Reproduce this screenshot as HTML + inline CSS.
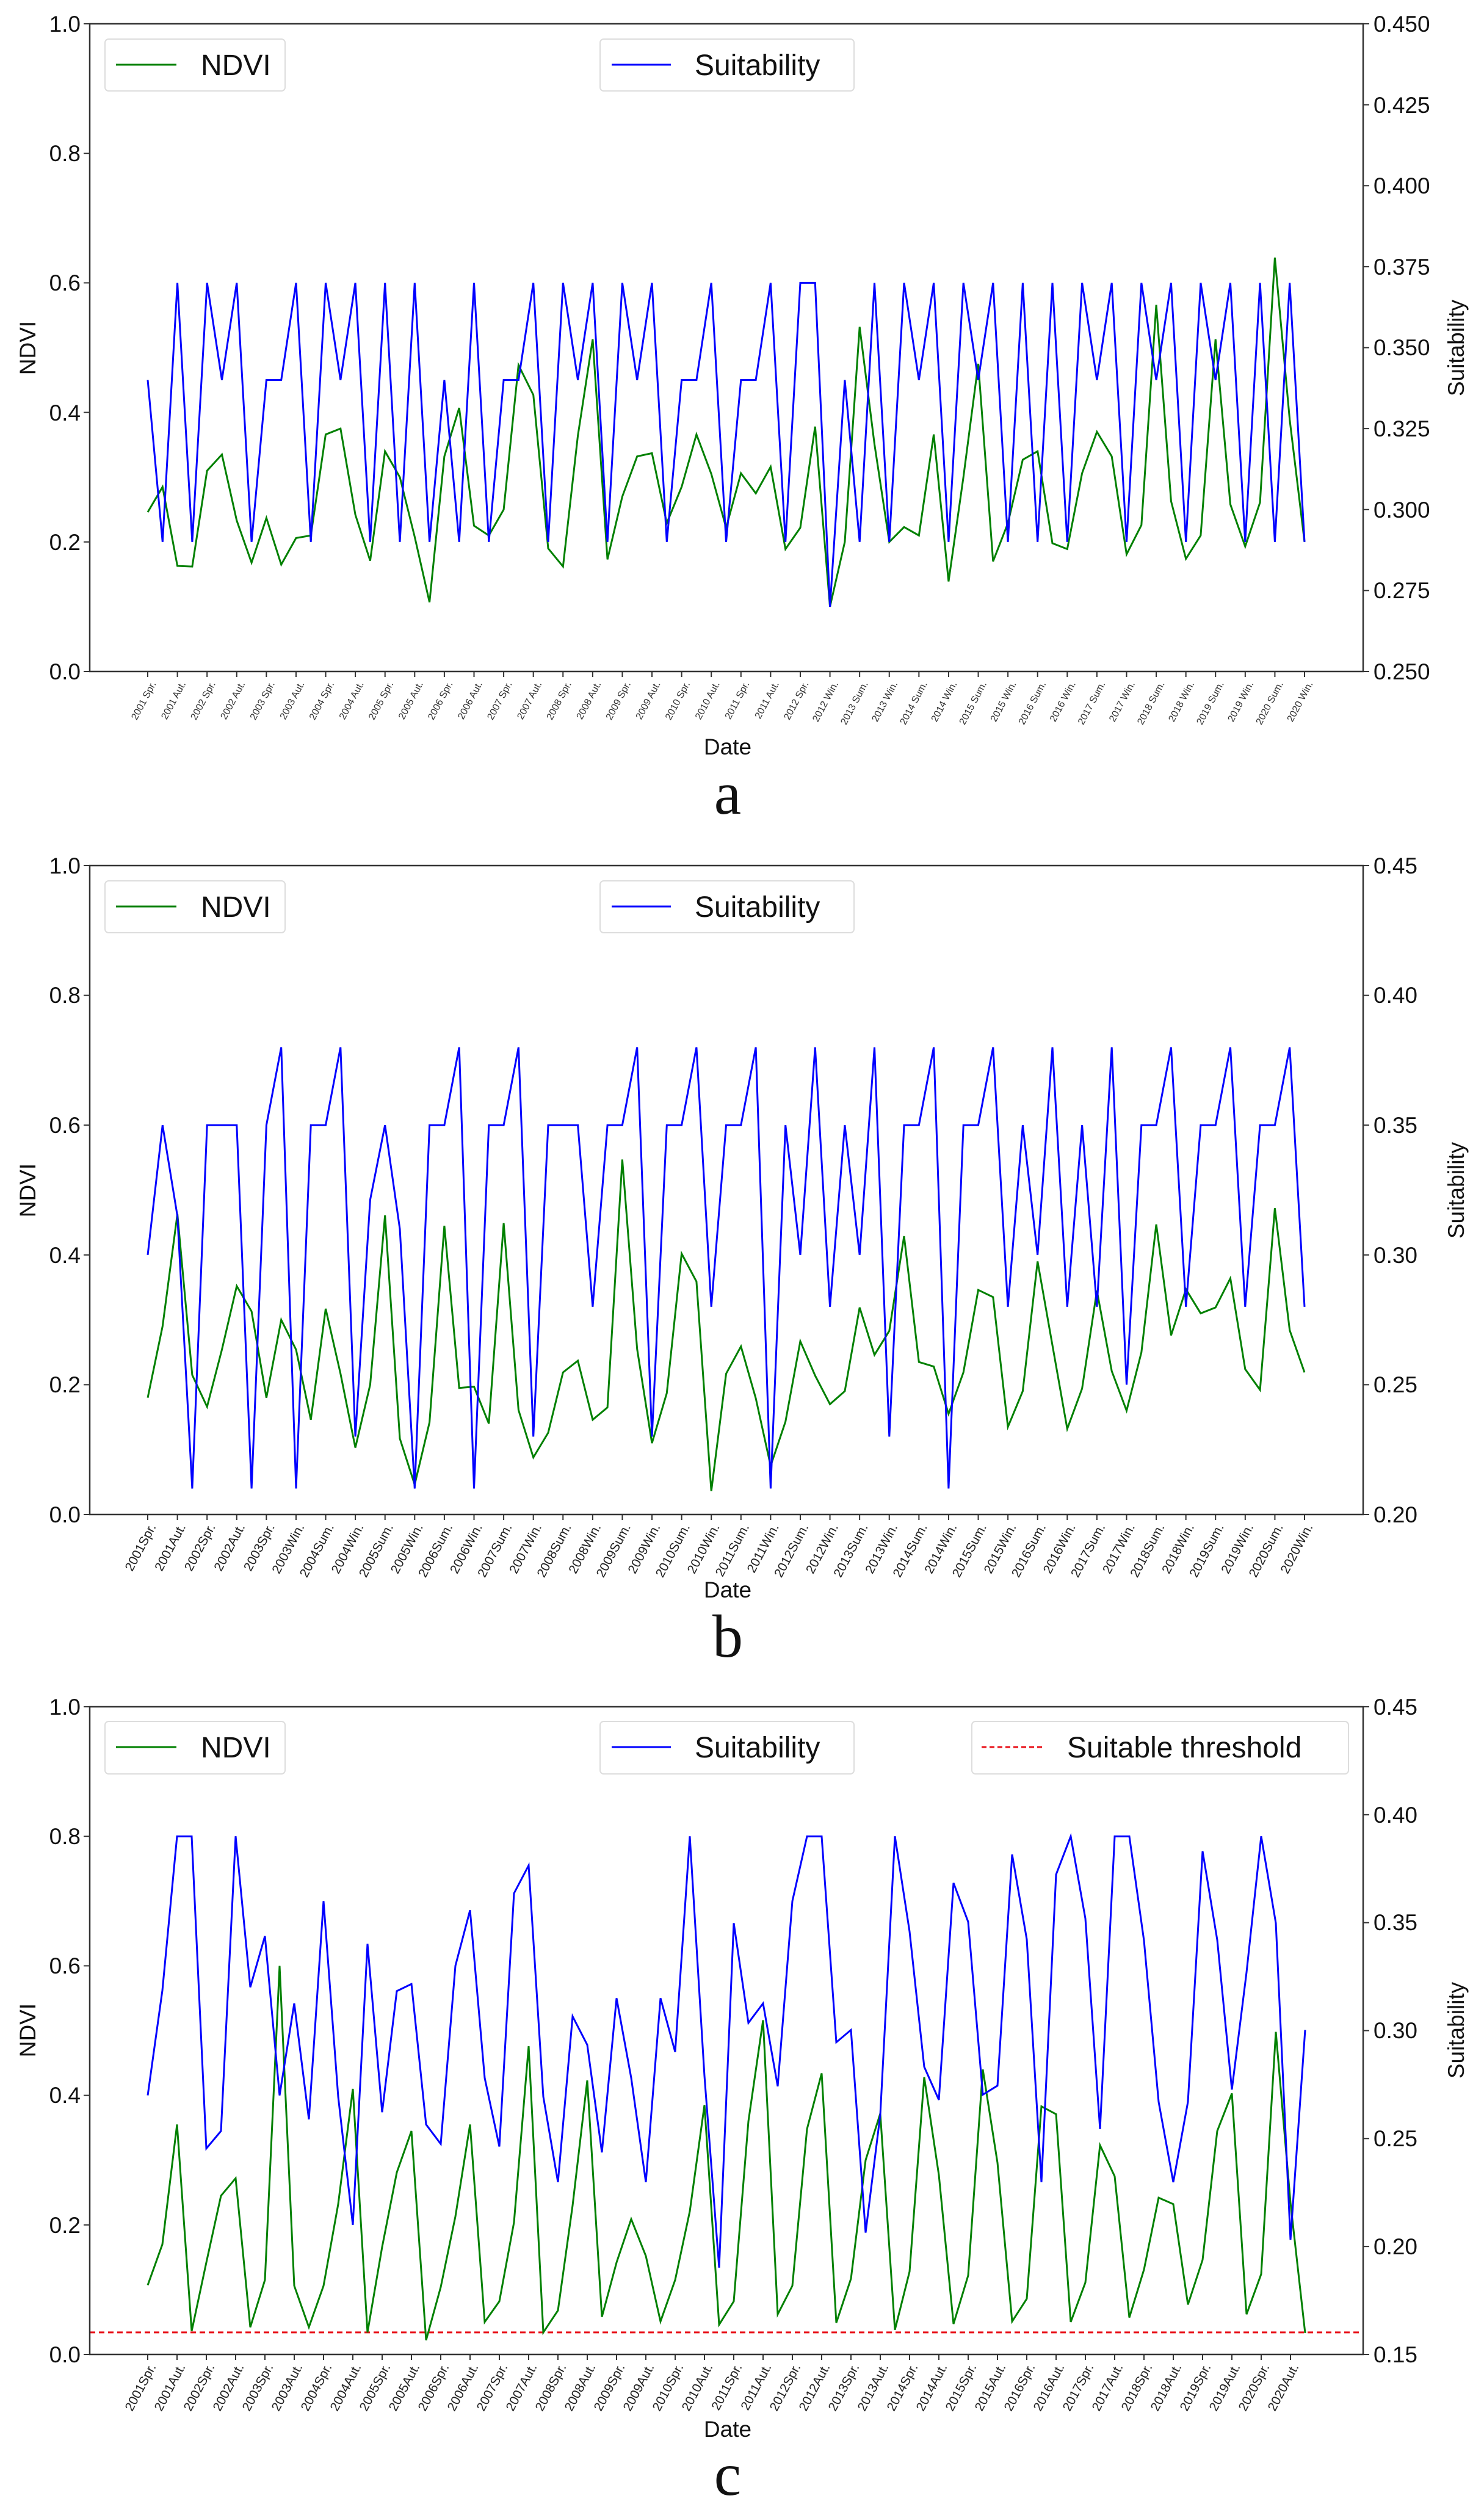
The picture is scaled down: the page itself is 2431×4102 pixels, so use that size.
<!DOCTYPE html>
<html><head><meta charset="utf-8">
<style>
html,body{margin:0;padding:0;background:#fff;}
svg{display:block;}
text{font-family:"Liberation Sans",sans-serif;fill:#111;}
.tk{font-size:37px;}
.ax{font-size:37px;}
.lg{font-size:48px;}
.ta{font-size:16px;fill:#333;}
.tb{font-size:21px;fill:#222;}
.let{font-family:"Liberation Serif",serif;font-size:100px;}
</style></head>
<body>
<svg id="s" width="2431" height="4102" viewBox="0 0 2431 4102" xmlns="http://www.w3.org/2000/svg">
<rect width="2431" height="4102" fill="#fff"/>

<!-- ===== Chart a ===== -->
<g id="A">
<text class="tk" x="132" y="1113" text-anchor="end">0.0</text>
<text class="tk" x="132" y="901" text-anchor="end">0.2</text>
<text class="tk" x="132" y="689" text-anchor="end">0.4</text>
<text class="tk" x="132" y="476" text-anchor="end">0.6</text>
<text class="tk" x="132" y="264" text-anchor="end">0.8</text>
<text class="tk" x="132" y="52" text-anchor="end">1.0</text>
<text class="tk" x="2250" y="1113">0.250</text>
<text class="tk" x="2250" y="980">0.275</text>
<text class="tk" x="2250" y="848">0.300</text>
<text class="tk" x="2250" y="715">0.325</text>
<text class="tk" x="2250" y="582">0.350</text>
<text class="tk" x="2250" y="450">0.375</text>
<text class="tk" x="2250" y="317">0.400</text>
<text class="tk" x="2250" y="185">0.425</text>
<text class="tk" x="2250" y="52">0.450</text>
<text class="ax" transform="translate(58,570) rotate(-90)" text-anchor="middle">NDVI</text>
<text class="ax" transform="translate(2398,570) rotate(-90)" text-anchor="middle">Suitability</text>
<text class="ax" x="1192" y="1236" text-anchor="middle">Date</text>
<text class="let" x="1192" y="1333" text-anchor="middle">a</text>
<g id="labA">
<text class="ta">2001 Spr.</text><text class="ta">2001 Aut.</text><text class="ta">2002 Spr.</text><text class="ta">2002 Aut.</text><text class="ta">2003 Spr.</text><text class="ta">2003 Aut.</text><text class="ta">2004 Spr.</text><text class="ta">2004 Aut.</text><text class="ta">2005 Spr.</text><text class="ta">2005 Aut.</text><text class="ta">2006 Spr.</text><text class="ta">2006 Aut.</text><text class="ta">2007 Spr.</text><text class="ta">2007 Aut.</text><text class="ta">2008 Spr.</text><text class="ta">2008 Aut.</text><text class="ta">2009 Spr.</text><text class="ta">2009 Aut.</text><text class="ta">2010 Spr.</text><text class="ta">2010 Aut.</text><text class="ta">2011 Spr.</text><text class="ta">2011 Aut.</text><text class="ta">2012 Spr.</text><text class="ta">2012 Win.</text><text class="ta">2013 Sum.</text><text class="ta">2013 Win.</text><text class="ta">2014 Sum.</text><text class="ta">2014 Win.</text><text class="ta">2015 Sum.</text><text class="ta">2015 Win.</text><text class="ta">2016 Sum.</text><text class="ta">2016 Win.</text><text class="ta">2017 Sum.</text><text class="ta">2017 Win.</text><text class="ta">2018 Sum.</text><text class="ta">2018 Win.</text><text class="ta">2019 Sum.</text><text class="ta">2019 Win.</text><text class="ta">2020 Sum.</text><text class="ta">2020 Win.</text>
</g>
</g>

<!-- ===== Chart b ===== -->
<g id="B">
<text class="tk" x="132" y="2494" text-anchor="end">0.0</text>
<text class="tk" x="132" y="2281" text-anchor="end">0.2</text>
<text class="tk" x="132" y="2069" text-anchor="end">0.4</text>
<text class="tk" x="132" y="1856" text-anchor="end">0.6</text>
<text class="tk" x="132" y="1643" text-anchor="end">0.8</text>
<text class="tk" x="132" y="1431" text-anchor="end">1.0</text>
<text class="tk" x="2250" y="2494">0.20</text>
<text class="tk" x="2250" y="2281">0.25</text>
<text class="tk" x="2250" y="2069">0.30</text>
<text class="tk" x="2250" y="1856">0.35</text>
<text class="tk" x="2250" y="1643">0.40</text>
<text class="tk" x="2250" y="1431">0.45</text>
<text class="ax" transform="translate(58,1950) rotate(-90)" text-anchor="middle">NDVI</text>
<text class="ax" transform="translate(2398,1950) rotate(-90)" text-anchor="middle">Suitability</text>
<text class="ax" x="1192" y="2617" text-anchor="middle">Date</text>
<text class="let" x="1192" y="2714" text-anchor="middle">b</text>
<g id="labB">
<text class="tb">2001Spr.</text><text class="tb">2001Aut.</text><text class="tb">2002Spr.</text><text class="tb">2002Aut.</text><text class="tb">2003Spr.</text><text class="tb">2003Win.</text><text class="tb">2004Sum.</text><text class="tb">2004Win.</text><text class="tb">2005Sum.</text><text class="tb">2005Win.</text><text class="tb">2006Sum.</text><text class="tb">2006Win.</text><text class="tb">2007Sum.</text><text class="tb">2007Win.</text><text class="tb">2008Sum.</text><text class="tb">2008Win.</text><text class="tb">2009Sum.</text><text class="tb">2009Win.</text><text class="tb">2010Sum.</text><text class="tb">2010Win.</text><text class="tb">2011Sum.</text><text class="tb">2011Win.</text><text class="tb">2012Sum.</text><text class="tb">2012Win.</text><text class="tb">2013Sum.</text><text class="tb">2013Win.</text><text class="tb">2014Sum.</text><text class="tb">2014Win.</text><text class="tb">2015Sum.</text><text class="tb">2015Win.</text><text class="tb">2016Sum.</text><text class="tb">2016Win.</text><text class="tb">2017Sum.</text><text class="tb">2017Win.</text><text class="tb">2018Sum.</text><text class="tb">2018Win.</text><text class="tb">2019Sum.</text><text class="tb">2019Win.</text><text class="tb">2020Sum.</text><text class="tb">2020Win.</text>
</g>
</g>

<!-- ===== Chart c ===== -->
<g id="C">
<text class="tk" x="132" y="3870" text-anchor="end">0.0</text>
<text class="tk" x="132" y="3658" text-anchor="end">0.2</text>
<text class="tk" x="132" y="3445" text-anchor="end">0.4</text>
<text class="tk" x="132" y="3233" text-anchor="end">0.6</text>
<text class="tk" x="132" y="3021" text-anchor="end">0.8</text>
<text class="tk" x="132" y="2809" text-anchor="end">1.0</text>
<text class="tk" x="2250" y="3870">0.15</text>
<text class="tk" x="2250" y="3693">0.20</text>
<text class="tk" x="2250" y="3516">0.25</text>
<text class="tk" x="2250" y="3339">0.30</text>
<text class="tk" x="2250" y="3162">0.35</text>
<text class="tk" x="2250" y="2986">0.40</text>
<text class="tk" x="2250" y="2809">0.45</text>
<text class="ax" transform="translate(58,3326) rotate(-90)" text-anchor="middle">NDVI</text>
<text class="ax" transform="translate(2398,3326) rotate(-90)" text-anchor="middle">Suitability</text>
<text class="ax" x="1192" y="3992" text-anchor="middle">Date</text>
<text class="let" x="1192" y="4087" text-anchor="middle">c</text>
<g id="labC">
<text class="tb">2001Spr.</text><text class="tb">2001Aut.</text><text class="tb">2002Spr.</text><text class="tb">2002Aut.</text><text class="tb">2003Spr.</text><text class="tb">2003Aut.</text><text class="tb">2004Spr.</text><text class="tb">2004Aut.</text><text class="tb">2005Spr.</text><text class="tb">2005Aut.</text><text class="tb">2006Spr.</text><text class="tb">2006Aut.</text><text class="tb">2007Spr.</text><text class="tb">2007Aut.</text><text class="tb">2008Spr.</text><text class="tb">2008Aut.</text><text class="tb">2009Spr.</text><text class="tb">2009Aut.</text><text class="tb">2010Spr.</text><text class="tb">2010Aut.</text><text class="tb">2011Spr.</text><text class="tb">2011Aut.</text><text class="tb">2012Spr.</text><text class="tb">2012Aut.</text><text class="tb">2013Spr.</text><text class="tb">2013Aut.</text><text class="tb">2014Spr.</text><text class="tb">2014Aut.</text><text class="tb">2015Spr.</text><text class="tb">2015Aut.</text><text class="tb">2016Spr.</text><text class="tb">2016Aut.</text><text class="tb">2017Spr.</text><text class="tb">2017Aut.</text><text class="tb">2018Spr.</text><text class="tb">2018Aut.</text><text class="tb">2019Spr.</text><text class="tb">2019Aut.</text><text class="tb">2020Spr.</text><text class="tb">2020Aut.</text>
</g>
</g>

<g id="plots"></g>

<!-- legends -->
<g>
<rect x="172" y="64" width="295" height="85" rx="6" fill="#fff" fill-opacity="0.85" stroke="#ddd" stroke-width="2"/>
<line x1="190" y1="106" x2="289" y2="106" stroke="#008000" stroke-width="3"/>
<text class="lg" x="329" y="123">NDVI</text>
<rect x="983" y="64" width="416" height="85" rx="6" fill="#fff" fill-opacity="0.85" stroke="#ddd" stroke-width="2"/>
<line x1="1002" y1="106" x2="1099" y2="106" stroke="#0000ff" stroke-width="3"/>
<text class="lg" x="1138" y="123">Suitability</text>

<rect x="172" y="1443" width="295" height="85" rx="6" fill="#fff" fill-opacity="0.85" stroke="#ddd" stroke-width="2"/>
<line x1="190" y1="1485" x2="289" y2="1485" stroke="#008000" stroke-width="3"/>
<text class="lg" x="329" y="1502">NDVI</text>
<rect x="983" y="1443" width="416" height="85" rx="6" fill="#fff" fill-opacity="0.85" stroke="#ddd" stroke-width="2"/>
<line x1="1002" y1="1485" x2="1099" y2="1485" stroke="#0000ff" stroke-width="3"/>
<text class="lg" x="1138" y="1502">Suitability</text>

<rect x="172" y="2820" width="295" height="86" rx="6" fill="#fff" fill-opacity="0.85" stroke="#ddd" stroke-width="2"/>
<line x1="190" y1="2862" x2="289" y2="2862" stroke="#008000" stroke-width="3"/>
<text class="lg" x="329" y="2879">NDVI</text>
<rect x="983" y="2820" width="416" height="86" rx="6" fill="#fff" fill-opacity="0.85" stroke="#ddd" stroke-width="2"/>
<line x1="1002" y1="2862" x2="1099" y2="2862" stroke="#0000ff" stroke-width="3"/>
<text class="lg" x="1138" y="2879">Suitability</text>
<rect x="1592" y="2820" width="617" height="86" rx="6" fill="#fff" fill-opacity="0.85" stroke="#ddd" stroke-width="2"/>
<line x1="1608" y1="2862" x2="1708" y2="2862" stroke="#e8121a" stroke-width="3" stroke-dasharray="8,5"/>
<text class="lg" x="1748" y="2879">Suitable threshold</text>
</g>
</svg>
<script>
(function(){
var NS="http://www.w3.org/2000/svg";
var P=document.getElementById("plots");
function el(n,a){var e=document.createElementNS(NS,n);for(var k in a)e.setAttribute(k,a[k]);P.appendChild(e);return e;}
var L=147,R=2233;
function chart(top,bot,n,sp,green,blue,rticks,labId,thr){
  var h=bot-top;
  function X(i){return 242+sp*i;}
  function Y(v){return bot-v*h;}
  // ticks left
  for(var k=0;k<=5;k++){var y=bot-k*h/5;el("line",{x1:L-10,y1:y,x2:L,y2:y,stroke:"#333","stroke-width":2});}
  for(var k=0;k<rticks;k++){var y=bot-k*h/(rticks-1);el("line",{x1:R,y1:y,x2:R+10,y2:y,stroke:"#333","stroke-width":2});}
  var labs=document.getElementById(labId).children;
  for(var k=0;k<labs.length;k++){var x=X(2*k);
    el("line",{x1:x,y1:bot,x2:x,y2:bot+9,stroke:"#333","stroke-width":2});
    labs[k].setAttribute("text-anchor","end");
    labs[k].setAttribute("transform","translate("+(x+14)+","+(bot+20)+") rotate(-62)");
  }
  if(thr!=null) el("line",{x1:L,y1:Y(thr),x2:R,y2:Y(thr),stroke:"#e8121a","stroke-width":3,"stroke-dasharray":"9,6"});
  function pl(d,c){var s="";for(var i=0;i<d.length;i++)s+=X(i).toFixed(1)+","+Y(d[i]).toFixed(1)+" ";
    el("polyline",{points:s,fill:"none",stroke:c,"stroke-width":3,"stroke-linejoin":"miter"});}
  pl(green,"#008000");pl(blue,"#0000ff");
  el("rect",{x:L,y:top,width:R-L,height:h,fill:"none",stroke:"#333","stroke-width":2.5});
}
var gA=[.246,.285,.163,.162,.31,.335,.233,.168,.237,.165,.206,.21,.366,.375,.242,.171,.34,.30,.208,.107,.332,.407,.225,.21,.25,.473,.427,.19,.162,.364,.513,.173,.27,.332,.337,.229,.285,.366,.305,.222,.306,.275,.316,.189,.222,.378,.10,.20,.532,.351,.20,.223,.21,.366,.139,.30,.475,.17,.229,.327,.34,.198,.189,.306,.37,.332,.181,.226,.566,.263,.174,.21,.513,.258,.193,.261,.639,.389,.20];
var bA=[.45,.2,.6,.2,.6,.45,.6,.2,.45,.45,.6,.2,.6,.45,.6,.2,.6,.2,.6,.2,.45,.2,.6,.2,.45,.45,.6,.2,.6,.45,.6,.2,.6,.45,.6,.2,.45,.45,.6,.2,.45,.45,.6,.2,.6,.6,.1,.45,.2,.6,.2,.6,.45,.6,.2,.6,.45,.6,.2,.6,.2,.6,.2,.6,.45,.6,.2,.6,.45,.6,.2,.6,.45,.6,.2,.6,.2,.6,.2];
var gB=[.18,.29,.463,.215,.166,.254,.352,.313,.18,.30,.254,.146,.317,.217,.103,.20,.461,.117,.046,.142,.445,.195,.197,.14,.449,.161,.088,.126,.219,.237,.146,.165,.547,.255,.11,.187,.402,.359,.036,.217,.259,.179,.075,.143,.267,.214,.17,.19,.319,.246,.283,.429,.235,.228,.155,.219,.346,.335,.135,.19,.39,.261,.132,.194,.345,.221,.16,.25,.447,.276,.347,.31,.319,.364,.224,.192,.472,.284,.219];
var bB=[.40,.60,.46,.04,.60,.60,.60,.04,.60,.72,.04,.60,.60,.72,.12,.485,.60,.44,.04,.60,.60,.72,.04,.60,.60,.72,.12,.60,.60,.60,.32,.60,.60,.72,.12,.60,.60,.72,.32,.60,.60,.72,.04,.60,.40,.72,.32,.60,.40,.72,.12,.60,.60,.72,.04,.60,.60,.72,.32,.60,.40,.72,.32,.60,.32,.72,.20,.60,.60,.72,.32,.60,.60,.72,.32,.60,.60,.72,.32];
var gC=[.107,.17,.355,.036,.142,.245,.272,.042,.115,.60,.106,.042,.106,.232,.41,.034,.166,.281,.345,.022,.104,.213,.355,.05,.082,.204,.476,.034,.068,.23,.423,.058,.142,.209,.152,.051,.115,.221,.385,.046,.082,.36,.516,.062,.106,.348,.434,.049,.117,.30,.372,.038,.128,.428,.277,.047,.122,.44,.296,.051,.086,.383,.371,.05,.111,.323,.275,.057,.131,.242,.232,.077,.146,.345,.403,.062,.124,.498,.234,.033];
var bC=[.40,.562,.80,.80,.318,.345,.80,.567,.646,.40,.542,.363,.70,.398,.20,.634,.374,.561,.572,.355,.325,.60,.686,.427,.321,.712,.755,.398,.266,.522,.478,.312,.55,.427,.266,.55,.467,.80,.43,.134,.666,.512,.542,.414,.70,.80,.80,.482,.501,.188,.37,.80,.653,.444,.393,.728,.668,.401,.415,.772,.641,.266,.741,.80,.673,.348,.80,.80,.639,.39,.266,.39,.777,.64,.409,.59,.80,.666,.177,.501];
chart(39,1100,79,24.295,gA,bA,9,"labA",null);
chart(1418,2481,79,24.295,gB,bB,6,"labB",null);
chart(2796,3857,80,24.0,gC,bC,7,"labC",0.034);
})();
</script>
</body></html>
